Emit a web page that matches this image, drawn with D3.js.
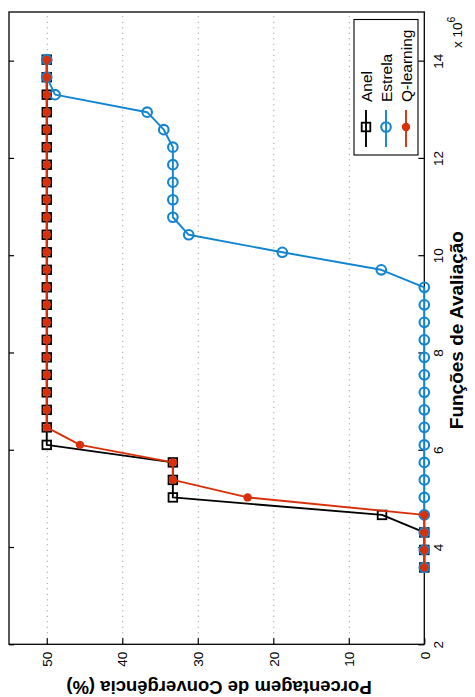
<!DOCTYPE html>
<html>
<head>
<meta charset="utf-8">
<script src="https://cdn.jsdelivr.net/npm/d3@7"></script>
<style>
  html, body { margin: 0; padding: 0; background: #fff; }
  svg { display: block; font-family: "Liberation Sans", Arial, Helvetica, sans-serif; }
</style>
</head>
<body>
<svg id="chart" width="475" height="697"></svg>
<script>
// Function evaluations (x 10^6)
const xEval = [3.58, 3.94, 4.30, 4.66, 5.02, 5.38, 5.74, 6.10, 6.46, 6.82,
               7.18, 7.54, 7.90, 8.26, 8.62, 8.98, 9.34, 9.70, 10.06, 10.42,
               10.78, 11.14, 11.50, 11.86, 12.22, 12.58, 12.94, 13.30, 13.66, 14.02];
// Convergence percentage (%)
const anel = [0, 0, 0, 5.6, 33.3, 33.3, 33.3, 50, 50, 50,
              50, 50, 50, 50, 50, 50, 50, 50, 50, 50,
              50, 50, 50, 50, 50, 50, 50, 50, 50, 50];
const estrela = [0, 0, 0, 0, 0, 0, 0, 0, 0, 0,
                 0, 0, 0, 0, 0, 0, 0, 5.7, 18.8, 31.2,
                 33.3, 33.3, 33.3, 33.3, 33.3, 34.5, 36.7, 48.9, 50, 50];
const qlearning = [0, 0, 0, 0, 23.4, 33.3, 33.3, 45.6, 50, 50,
                   50, 50, 50, 50, 50, 50, 50, 50, 50, 50,
                   50, 50, 50, 50, 50, 50, 50, 50, 50, 50];
const seriesNames = ["Anel", "Estrela", "Q-learning"];
const seriesColors = ["#000000", "#1285d2", "#d9300a"];
const evalTicks = [2, 4, 6, 8, 10, 12, 14];
const pctTicks = [0, 10, 20, 30, 40, 50];
const gridTicks = [10, 20, 30, 40, 50];
const xTitle = "Funções de Avaliação";
const yTitle = "Porcentagem de Convergência (%)";

const svg = d3.select("#chart");
const L = 9, R = 424.3, T = 12, B = 644.3;

// rotated plot: percentage runs horizontally (0 at right), evaluations vertically (2 at bottom)
const pct = d3.scaleLinear().domain([0, 55]).range([R, L]);
const ev = d3.scaleLinear().domain([2, 15]).range([B, T]);

// grid (dotted) along percentage ticks
svg.append("g")
  .attr("transform", `translate(0,${B})`)
  .call(d3.axisBottom(pct).tickValues(gridTicks).tickSize(-(B - T)).tickFormat(""))
  .call(g => g.select(".domain").remove())
  .call(g => g.selectAll("line").attr("stroke", "#8a8a8a").attr("stroke-width", 1).attr("stroke-dasharray", "1,4.5"));

// frame
svg.append("rect").attr("x", L).attr("y", T).attr("width", R - L).attr("height", B - T)
  .attr("fill", "none").attr("stroke", "#000").attr("stroke-width", 1.3);

// bottom axis (percentage)
const ax1 = svg.append("g")
  .attr("transform", `translate(0,${B})`)
  .call(d3.axisBottom(pct).tickValues(pctTicks).tickSize(-6).tickPadding(0));
ax1.select(".domain").remove();
ax1.selectAll("line").attr("stroke", "#000").attr("stroke-width", 1.2);
ax1.selectAll("text")
  .attr("x", 0).attr("y", 0).attr("dy", "0.35em")
  .attr("transform", "translate(0,7.5) rotate(-90)")
  .attr("text-anchor", "end")
  .attr("font-size", 13.5).attr("fill", "#000")
  .attr("font-family", "Liberation Sans, Arial, sans-serif");

// right axis (evaluations)
const ax2 = svg.append("g")
  .attr("transform", `translate(${R},0)`)
  .call(d3.axisRight(ev).tickValues(evalTicks).tickSize(-6).tickPadding(0));
ax2.select(".domain").remove();
ax2.selectAll("line").attr("stroke", "#000").attr("stroke-width", 1.2);
ax2.selectAll("text")
  .attr("x", 0).attr("y", 0).attr("dy", 0)
  .attr("transform", "translate(18.5,0) rotate(-90)")
  .attr("text-anchor", "middle")
  .attr("font-size", 13.5).attr("fill", "#000")
  .attr("font-family", "Liberation Sans, Arial, sans-serif");

// left ticks
const ax3 = svg.append("g")
  .attr("transform", `translate(${L},0)`)
  .call(d3.axisRight(ev).tickValues(evalTicks).tickSize(5).tickFormat(""));
ax3.select(".domain").remove();
ax3.selectAll("line").attr("stroke", "#000").attr("stroke-width", 1.2);

// x 10^6
const mult = svg.append("text")
  .attr("transform", "translate(462,48) rotate(-90)")
  .attr("font-size", 13.5).attr("fill", "#000");
mult.append("tspan").text("x 10");
mult.append("tspan").attr("dy", -7).attr("font-size", 10.5).text("6");

// axis titles
svg.append("text")
  .attr("transform", `translate(219,681) rotate(180)`)
  .attr("text-anchor", "middle").attr("font-weight", "bold").attr("font-size", 18.5)
  .attr("fill", "#000").text(yTitle);
svg.append("text")
  .attr("transform", `translate(463,${(T + B) / 2 + 2}) rotate(-90)`)
  .attr("text-anchor", "middle").attr("font-weight", "bold").attr("font-size", 19)
  .attr("fill", "#000").text(xTitle);

// series
const datasets = [anel, estrela, qlearning];
const line = d3.line().x(d => pct(d[1])).y(d => ev(d[0]));

function drawMarker(g, type, color, x, y) {
  if (type === 0) {
    g.append("rect").attr("x", x - 4.3).attr("y", y - 4.3).attr("width", 8.6).attr("height", 8.6)
      .attr("fill", "none").attr("stroke", color).attr("stroke-width", 1.8);
  } else if (type === 1) {
    g.append("circle").attr("cx", x).attr("cy", y).attr("r", 4.8)
      .attr("fill", "none").attr("stroke", color).attr("stroke-width", 2.1);
  } else {
    g.append("circle").attr("cx", x).attr("cy", y).attr("r", 4.2)
      .attr("fill", color).attr("stroke", "none");
  }
}

datasets.forEach((vals, k) => {
  const pts = xEval.map((x, i) => [x, vals[i]]);
  const g = svg.append("g");
  g.append("path").datum(pts).attr("d", line)
    .attr("fill", "none").attr("stroke", seriesColors[k]).attr("stroke-width", 1.9)
    .attr("stroke-linejoin", "round");
  pts.forEach(p => drawMarker(g, k, seriesColors[k], pct(p[1]), ev(p[0])));
});

// legend
const lg = svg.append("g");
lg.append("rect").attr("x", 354).attr("y", 19.5).attr("width", 64).attr("height", 135.5)
  .attr("fill", "#fff").attr("stroke", "#000").attr("stroke-width", 1.1);
const legX = [366, 386, 406];
seriesNames.forEach((name, k) => {
  const x = legX[k];
  lg.append("line").attr("x1", x).attr("x2", x).attr("y1", 110).attr("y2", 147)
    .attr("stroke", seriesColors[k]).attr("stroke-width", 1.9);
  drawMarker(lg, k, seriesColors[k], x, 127);
  lg.append("text")
    .attr("transform", `translate(${x},102) rotate(-90)`)
    .attr("dy", "0.36em").attr("font-size", 15.5).attr("fill", "#000")
    .text(name);
});
</script>
</body>
</html>
